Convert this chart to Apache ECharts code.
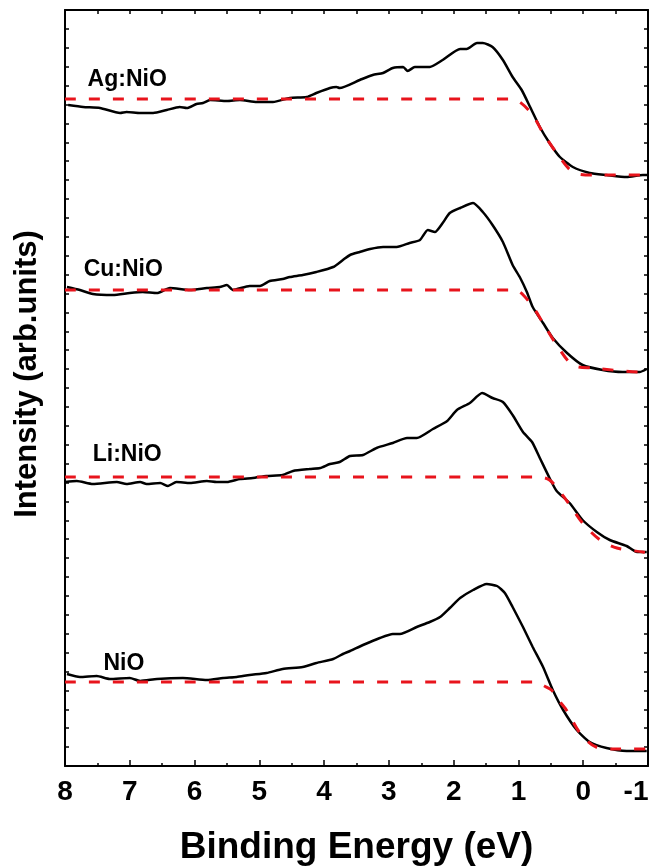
<!DOCTYPE html>
<html><head><meta charset="utf-8">
<script src="https://cdn.jsdelivr.net/npm/echarts@6/dist/echarts.min.js"></script>
<style>html,body{margin:0;padding:0;background:#fff}#c{width:650px;height:867px}</style>
</head><body><div id="c"></div>
<script>
// Binding energy tick labels (eV)
const xTickValues = [8,7,6,5,4,3,2,1,0,-1];

// Ag:NiO spectrum
const agE = [7.95,7.72,7.46,7.15,7.05,6.84,6.64,6.43,6.23,6.12,5.97,5.87,5.76,5.50,5.30,5.04,4.79,4.53,4.27,4.12,3.91,3.81,3.76,3.45,3.25,3.09,2.94,2.78,2.71,2.60,2.37,2.17,1.90,1.80,1.64,1.55,1.40,1.24,1.09,0.95,0.82,0.67,0.52,0.36,0.16,-0.10,-0.36,-0.67,-0.92,-1.00];
const agI = [661,659,658,653,654,653,653,656,659,658,662,663,666,665,666,664,664,668,669,673,678,679,678,686,691,693,698,699,695,699,699,706,717,717,723,723,719,706,689,676,659,639,623,609,599,593,591,589,591,591];
const agFitE = [8.00,1.13,0.98,0.78,0.62,0.41,0.16,-0.15,-1.00];
const agFitI = [667,667,664,651,633,613,594,591,591];

// Cu:NiO spectrum
const cuE = [7.97,7.77,7.57,7.26,7.00,6.80,6.58,6.38,6.07,5.81,5.61,5.50,5.41,5.15,4.99,4.84,4.64,4.53,4.33,4.12,3.86,3.71,3.60,3.45,3.29,3.09,2.88,2.68,2.52,2.40,2.29,2.17,2.06,1.90,1.70,1.55,1.40,1.24,1.09,0.98,0.87,0.78,0.62,0.47,0.25,0.01,-0.30,-0.61,-0.87,-0.98];
const cuI = [479,476,472,471,473,474,473,478,476,478,479,481,476,480,480,485,487,489,491,494,499,506,511,514,517,519,519,523,526,536,534,543,553,558,563,554,541,524,501,489,474,459,443,428,413,401,396,394,394,397];
const cuFitE = [8.00,1.06,0.82,0.62,0.41,0.16,-0.15,-0.92,-1.00];
const cuFitI = [476,476,463,443,421,401,398,394,394];

// Li:NiO spectrum
const liE = [8.00,7.82,7.57,7.20,7.05,6.84,6.74,6.53,6.41,6.28,6.07,5.81,5.66,5.50,5.30,5.10,4.89,4.64,4.48,4.22,4.06,3.91,3.76,3.60,3.40,3.19,2.94,2.72,2.57,2.32,2.10,1.95,1.75,1.56,1.40,1.24,1.09,0.93,0.79,0.67,0.52,0.41,0.21,0.01,-0.21,-0.41,-0.67,-0.83,-0.98];
const liI = [284,285,282,284,282,284,282,283,280,284,283,285,284,284,287,288,290,291,295,297,298,302,304,310,311,318,323,328,328,337,345,356,363,373,368,364,351,334,324,308,288,275,263,246,234,226,220,214,214];
const liFitE = [8.00,0.75,0.52,0.24,0.01,-0.26,-0.52,-0.92,-1.00];
const liFitI = [289,289,286,264,243,226,218,214,213];

// NiO spectrum
const nioE = [7.97,7.77,7.51,7.31,7.00,6.84,6.58,6.18,5.81,5.56,5.35,5.15,4.89,4.64,4.33,4.12,3.86,3.71,3.60,3.40,3.14,2.94,2.83,2.57,2.37,2.21,2.06,1.90,1.70,1.49,1.33,1.21,1.09,0.93,0.78,0.62,0.47,0.31,0.10,-0.10,-0.36,-0.67,-0.98];
const nioI = [92,89,90,87,88,85,87,88,86,88,89,91,93,97,99,103,107,112,115,121,128,132,132,139,144,149,158,168,176,182,180,173,159,139,119,99,76,56,36,24,18,15,15];
const nioFitE = [8.00,0.72,0.60,0.49,0.41,0.26,0.05,-0.20,-0.51,-1.00];
const nioFitI = [84,84,80,76,68,56,33,19,17,17];

// Sample names and where they sit (eV, intensity)
const sampleNames = ['Ag:NiO','Cu:NiO','Li:NiO','NiO'];
const sampleLabelE = [7.04,7.10,7.04,7.09];
const sampleLabelI = [686,496,311,102];

const FONT = '"Liberation Sans", Arial, sans-serif';
const zip = (a, b) => a.map((v, i) => [v, b[i]]);

const spectra = [[agE, agI],[cuE, cuI],[liE, liI],[nioE, nioI]];
const fits = [[agFitE, agFitI],[cuFitE, cuFitI],[liFitE, liFitI],[nioFitE, nioFitI]];

const series = [];
spectra.forEach(([e, i], k) => series.push({
  type: 'line', name: sampleNames[k], data: zip(e, i), showSymbol: false, symbol: 'none', smooth: 0.2,
  lineStyle: {color: '#000', width: 2.5}, z: 2, animation: false
}));
fits.forEach(([e, i], k) => series.push({
  type: 'line', name: sampleNames[k] + ' fit', data: zip(e, i), showSymbol: false, symbol: 'none', smooth: 0.3,
  lineStyle: {color: '#e8141c', width: 3, type: [11, 13]}, z: 3, animation: false
}));
series.push({
  type: 'scatter', symbolSize: 0, z: 4, animation: false, itemStyle: {color: '#000', opacity: 0},
  data: sampleNames.map((n, k) => [sampleLabelE[k], sampleLabelI[k], n]),
  label: {show: true, position: 'inside', formatter: p => p.data[2],
    fontFamily: FONT, fontSize: 23, fontWeight: 'bold', color: '#000',
    textBorderWidth: 0, textBorderColor: 'transparent', opacity: 1}
});

const tickStyle = {color: '#000', width: 1.5};
const lineStyle = {color: '#000', width: 2};

const option = {
  backgroundColor: '#fff',
  animation: false,
  grid: {left: 65, right: 2, top: 10, bottom: 101, outerBoundsMode: 'none', containLabel: false},
  xAxis: [{
    type: 'value', min: -1, max: 8, interval: 1, inverse: true, position: 'bottom',
    axisLine: {show: true, onZero: false, lineStyle},
    axisTick: {show: true, inside: true, length: 6, lineStyle: tickStyle},
    minorTick: {show: true, splitNumber: 2, length: 3, lineStyle: tickStyle},
    splitLine: {show: false},
    axisLabel: {
      show: true, margin: 12, fontFamily: FONT, fontSize: 28, fontWeight: 'bold', color: '#000',
      showMinLabel: true, showMaxLabel: true,
      formatter: v => (xTickValues.includes(v) ? (v === -1 ? '{r|-1}' : String(v)) : ''),
      rich: {r: {fontFamily: FONT, fontSize: 28, fontWeight: 'bold', color: '#000', padding: [0, 24, 0, 0]}}
    },
    name: 'Binding Energy (eV)', nameLocation: 'middle', nameGap: 63,
    nameTextStyle: {fontFamily: FONT, fontSize: 37, fontWeight: 'bold', color: '#000'}
  }, {
    type: 'value', min: -1, max: 8, interval: 0.5, inverse: true, position: 'top',
    axisLine: {show: true, onZero: false, lineStyle},
    axisTick: {show: true, inside: true, length: 4, lineStyle: tickStyle},
    axisLabel: {show: false}, splitLine: {show: false}
  }],
  yAxis: [{
    type: 'value', min: 0, max: 756, interval: 18.9, position: 'left',
    axisLine: {show: true, onZero: false, lineStyle},
    axisTick: {show: true, inside: true, length: 4, lineStyle: tickStyle},
    axisLabel: {show: false}, splitLine: {show: false},
    name: 'Intensity (arb.units)', nameLocation: 'middle', nameGap: 22,
    nameTextStyle: {fontFamily: FONT, fontSize: 31, fontWeight: 'bold', color: '#000', padding: [0, 0, 0, 28]}
  }, {
    type: 'value', min: 0, max: 756, interval: 18.9, position: 'right',
    axisLine: {show: true, onZero: false, lineStyle},
    axisTick: {show: true, inside: true, length: 4, lineStyle: tickStyle},
    axisLabel: {show: false}, splitLine: {show: false}
  }],
  series
};

const chart = echarts.init(document.getElementById('c'), null, {renderer: 'canvas'});
chart.setOption(option);
</script>
</body></html>
